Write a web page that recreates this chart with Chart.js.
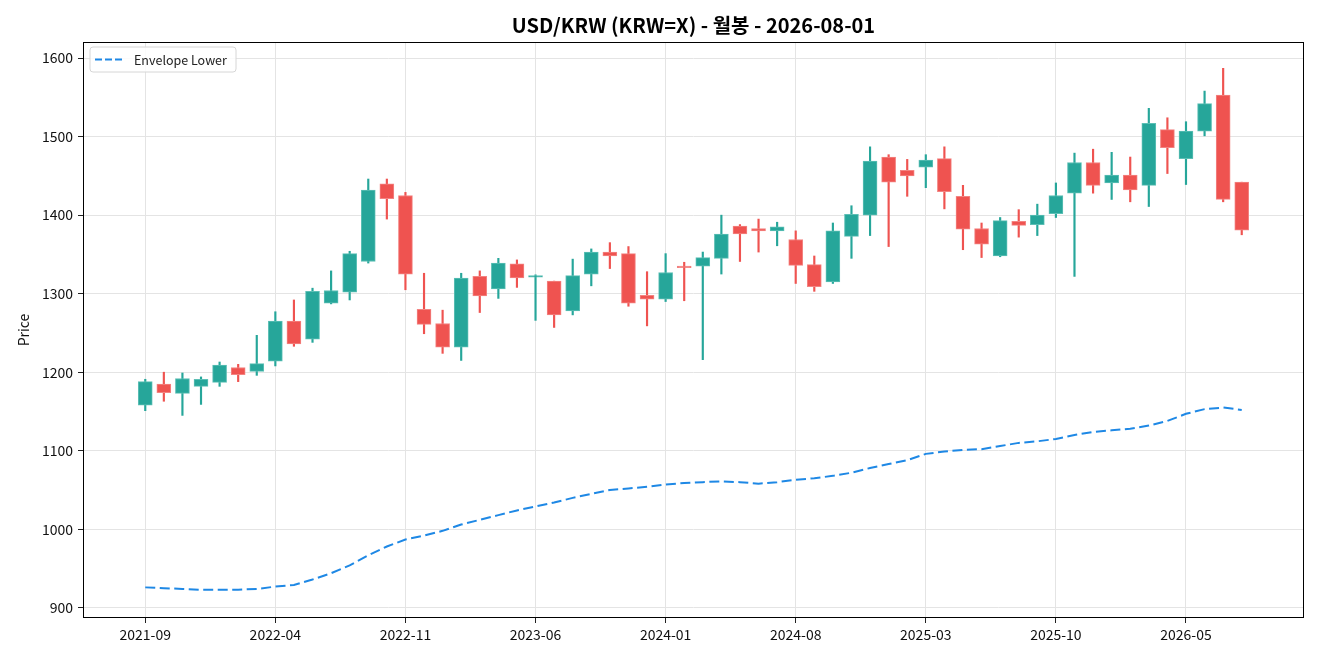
<!DOCTYPE html>
<html>
<head>
<meta charset="utf-8">
<script src="https://cdn.jsdelivr.net/npm/chart.js@4.4.1/dist/chart.umd.min.js"></script>
<style>
  html, body { margin: 0; padding: 0; background: #fff; }
  #wrap { width: 1320px; height: 660px; position: relative; }
</style>
</head>
<body>
<div id="wrap"><canvas id="krwChart"></canvas></div>
<script>
// Monthly candles, USD/KRW
const months = ['2021-09','2021-10','2021-11','2021-12','2022-01','2022-02','2022-03','2022-04','2022-05','2022-06',
                '2022-07','2022-08','2022-09','2022-10','2022-11','2022-12','2023-01','2023-02','2023-03','2023-04',
                '2023-05','2023-06','2023-07','2023-08','2023-09','2023-10','2023-11','2023-12','2024-01','2024-02',
                '2024-03','2024-04','2024-05','2024-06','2024-07','2024-08','2024-09','2024-10','2024-11','2024-12',
                '2025-01','2025-02','2025-03','2025-04','2025-05','2025-06','2025-07','2025-08','2025-09','2025-10',
                '2025-11','2025-12','2026-01','2026-02','2026-03','2026-04','2026-05','2026-06','2026-07','2026-08'];
const opens  = [1158,1185,1173,1182,1187,1206,1201,1214,1265,1242, 1288,1302,1341,1440,1425,1280,1262,1232,1322,1306,
                1338,1321,1316,1278,1325,1353,1351,1298,1293,1335, 1335,1345,1386,1383,1380,1369,1337,1315,1373,1400,
                1474,1457,1461,1472,1424,1383,1348,1392,1388,1402, 1428,1467,1441,1451,1438,1509,1472,1507,1553,1442];
const highs  = [1191,1200,1199,1194,1213,1210,1247,1277,1292,1307, 1329,1354,1446,1446,1429,1326,1279,1326,1329,1345,
                1343,1324,1316,1344,1357,1365,1360,1328,1351,1340, 1353,1400,1388,1395,1391,1380,1348,1390,1412,1487,
                1477,1471,1477,1487,1438,1390,1397,1407,1414,1441, 1479,1484,1480,1474,1536,1524,1519,1558,1587,1442];
const lows   = [1151,1163,1145,1159,1182,1188,1196,1208,1233,1238, 1287,1292,1339,1395,1305,1249,1224,1215,1276,1294,
                1308,1266,1257,1273,1310,1332,1284,1259,1290,1291, 1216,1325,1341,1353,1361,1313,1303,1313,1345,1374,
                1360,1424,1435,1408,1356,1346,1347,1372,1374,1397, 1322,1428,1420,1417,1411,1453,1439,1501,1417,1375];
const closes = [1188,1174,1192,1191,1209,1197,1211,1265,1236,1303, 1304,1351,1432,1421,1325,1261,1232,1320,1297,1339,
                1320,1323,1273,1323,1353,1348,1288,1293,1327,1333, 1346,1376,1376,1380,1385,1336,1309,1380,1401,1469,
                1442,1450,1470,1430,1382,1363,1393,1387,1400,1425, 1467,1438,1451,1432,1517,1486,1507,1542,1420,1381];
const envLower = [926,925,924,923,923,923,924,927,929,936, 944,954,967,978,987,992,998,1006,1012,1018,
                  1024,1029,1034,1040,1045,1050,1052,1054,1057,1059, 1060,1061,1060,1058,1060,1063,1065,1068,1072,1078,
                  1083,1088,1096,1099,1101,1102,1106,1110,1112,1115, 1120,1124,1126,1128,1132,1138,1147,1153,1155,1152];
const xTickIdx = [0, 7, 14, 21, 28, 35, 42, 49, 56];
const yTicks = [900, 1000, 1100, 1200, 1300, 1400, 1500, 1600];
const chartTitle = 'USD/KRW (KRW=X) - 월봉 - 2026-08-01';

const UP = '#26a69a', DOWN = '#ef5350';
const UP_EDGE = '#5cbfb5', DOWN_EDGE = '#f38482';
const isUp = months.map((m, i) => closes[i] >= opens[i]);

const FONT = "'Noto Sans CJK KR', 'Noto Sans', sans-serif";

// frame around the plot, title centred over the plot, legend inside the plot area
const framePlugin = {
    id: 'frame',
    afterDraw(chart) {
        const a = chart.chartArea, c = chart.ctx;
        c.save();
        c.strokeStyle = '#000';
        c.lineWidth = 1;
        c.strokeRect(a.left + 0.5, a.top + 0.5, a.right - a.left - 1, a.bottom - a.top - 1);

        // title
        c.fillStyle = '#000';
        c.font = 'bold 20px ' + FONT;
        c.textAlign = 'center';
        c.textBaseline = 'middle';
        c.fillText(chartTitle, (a.left + a.right) / 2, 25);

        // legend box
        const bx = a.left + 7, by = a.top + 5, bw = 146, bh = 25;
        c.fillStyle = 'rgba(255,255,255,0.85)';
        c.strokeStyle = '#d6d6d6';
        c.beginPath();
        c.roundRect(bx, by, bw, bh, 3);
        c.fill();
        c.stroke();
        c.strokeStyle = '#1e88e5';
        c.lineWidth = 2;
        c.setLineDash([7, 3]);
        c.beginPath();
        c.moveTo(bx + 5, by + 12.5);
        c.lineTo(bx + 34, by + 12.5);
        c.stroke();
        c.setLineDash([]);
        c.fillStyle = '#222';
        c.font = '12.5px ' + FONT;
        c.textAlign = 'left';
        c.fillText('Envelope Lower', bx + 44, by + 13);
        c.restore();
    }
};

const ctx = document.getElementById('krwChart').getContext('2d');
new Chart(ctx, {
    type: 'bar',
    data: {
        datasets: [
            {
                type: 'line',
                label: 'Envelope Lower',
                data: envLower.map((v, i) => ({ x: i, y: v })),
                borderColor: '#1e88e5',
                borderWidth: 2,
                borderDash: [10, 4.5],
                pointRadius: 0,
                tension: 0,
                order: 0
            },
            {
                label: 'body',
                data: opens.map((o, i) => ({ x: i, y: [o, closes[i]] })),
                backgroundColor: isUp.map(u => u ? UP : DOWN),
                borderColor: isUp.map(u => u ? UP_EDGE : DOWN_EDGE),
                borderWidth: 1,
                borderSkipped: false,
                barThickness: 14,
                grouped: false,
                order: 1
            },
            {
                label: 'wick',
                data: lows.map((l, i) => ({ x: i, y: [l, highs[i]] })),
                backgroundColor: isUp.map(u => u ? UP : DOWN),
                borderWidth: 0,
                barThickness: 1.5,
                grouped: false,
                order: 2
            }
        ]
    },
    options: {
        responsive: true,
        maintainAspectRatio: false,
        animation: false,
        layout: { padding: { left: 0, right: 16, top: 42, bottom: 0 } },
        plugins: {
            legend: { display: false },
            tooltip: { enabled: false },
            title: { display: false }
        },
        scales: {
            x: {
                type: 'linear',
                min: -3.35,
                max: 62.35,
                offset: false,
                afterBuildTicks: function(scale) {
                    scale.ticks = xTickIdx.map(v => ({ value: v }));
                },
                afterFit: function(scale) { scale.height = 42; },
                ticks: {
                    autoSkip: false,
                    maxRotation: 0,
                    color: '#111',
                    font: { family: FONT, size: 14 },
                    padding: 3,
                    callback: function(value) { return months[value]; }
                },
                grid: { color: '#e4e4e4', tickColor: '#222', tickLength: 5, offset: false },
                border: { display: false }
            },
            y: {
                min: 887,
                max: 1620.5,
                afterBuildTicks: function(scale) {
                    scale.ticks = yTicks.map(v => ({ value: v }));
                },
                afterFit: function(scale) { scale.width = 83; },
                title: {
                    display: true,
                    text: 'Price',
                    color: '#111',
                    font: { family: FONT, size: 14 },
                    padding: { top: 15, bottom: 0 }
                },
                ticks: {
                    color: '#111',
                    font: { family: FONT, size: 14 },
                    padding: 5,
                    callback: function(value) { return String(value); }
                },
                grid: { color: '#e4e4e4', tickColor: '#222', tickLength: 5 },
                border: { display: false }
            }
        }
    },
    plugins: [framePlugin]
});
</script>
</body>
</html>
